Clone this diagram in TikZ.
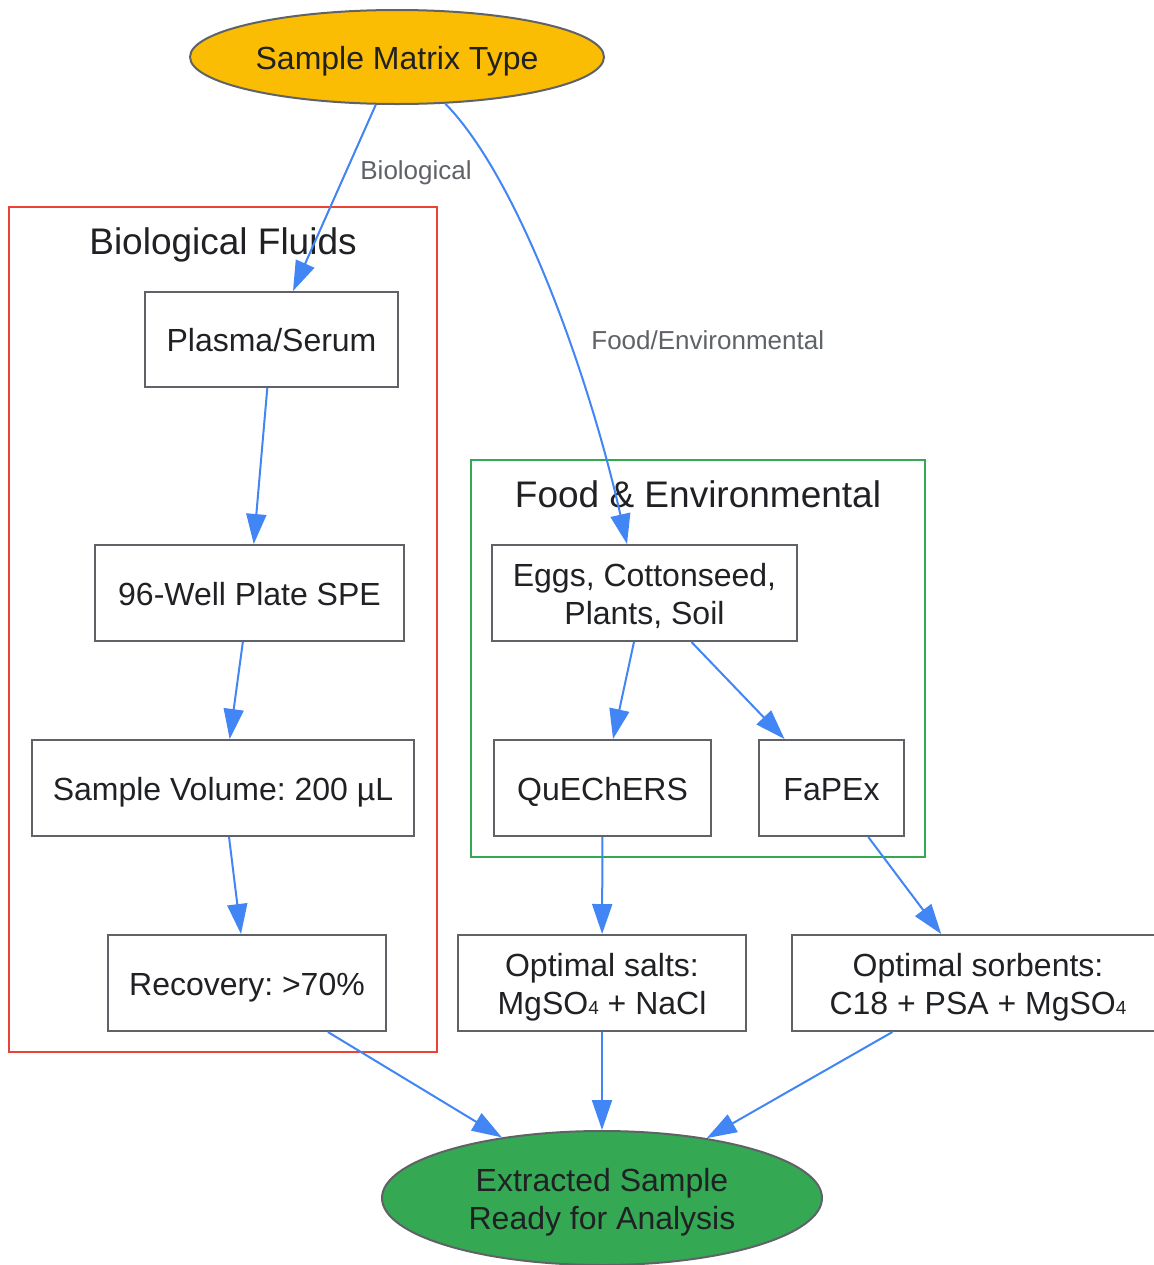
\documentclass[tikz,border=0pt]{standalone}
\usepackage{fontspec}
\setmainfont{Liberation Sans}
\usetikzlibrary{arrows.meta,shapes.geometric}
\definecolor{gyellow}{HTML}{FBBC04}
\definecolor{ggreen}{HTML}{34A853}
\definecolor{gred}{HTML}{EA4335}
\definecolor{gblue}{HTML}{4285F4}
\definecolor{ggray}{HTML}{5F6368}
\definecolor{gtext}{HTML}{202124}
\newcommand{\subfour}{{\fontsize{9.5pt}{9.5pt}\selectfont 4}}
\tikzset{
  box/.style={draw=ggray, line width=1pt, fill=white, inner sep=0pt, align=center,
    text=gtext, font=\fontsize{16pt}{19pt}\selectfont, minimum height=48pt,
    text height=12pt, text depth=0pt},
  oval/.style={ellipse, draw=ggray, line width=1pt, inner sep=0pt, align=center,
    text=gtext, font=\fontsize{16pt}{19pt}\selectfont, text height=12pt, text depth=0pt},
  twoline/.style={text height=31.5pt, text depth=0pt},
  flow/.style={draw=gblue, line width=1pt, -{Triangle[length=15pt,width=10pt]}},
  elabel/.style={text=ggray, font=\fontsize{13pt}{15pt}\selectfont, anchor=west, inner sep=0pt,
    text height=9.3pt, text depth=0pt},
  clabel/.style={text=gtext, font=\fontsize{18.5pt}{22pt}\selectfont, inner sep=0pt,
    text height=13.25pt, text depth=0pt},
  cluster/.style={line width=1pt}
}
\begin{document}
\frenchspacing
\begin{tikzpicture}[x=0.5pt,y=-0.5pt]
\useasboundingbox (0,0) rectangle (1154,1265);
\fill[white] (0,0) rectangle (1154,1265);
% clusters
\draw[cluster, draw=gred] (9,207) rectangle (437,1052);
\node[clabel] (biolabel) at (223,241) {Biological Fluids};
\draw[cluster, draw=ggreen] (471,460) rectangle (925,857);
\node[clabel] (foodlabel) at (698,494) {Food \& Environmental};
% nodes
\node[oval, fill=gyellow, minimum width=207pt, minimum height=47pt] (top) at (397,57) {Sample Matrix Type};
\node[box, minimum width=126.5pt, minimum height=47.5pt] (plasma) at (271.5,339.5) {Plasma/Serum};
\node[box, minimum width=154.5pt] (well) at (249.5,593) {96-Well Plate SPE};
\node[box, minimum width=191pt] (vol) at (223,788) {Sample Volume: 200 µL};
\node[box, minimum width=139pt] (rec) at (247,983) {Recovery: >70\%};
\node[box, twoline, minimum width=152.5pt] (eggs) at (644.5,593) {Eggs, Cottonseed,\\Plants, Soil};
\node[box, minimum width=108.5pt] (quech) at (602.5,788) {QuEChERS};
\node[box, minimum width=72.5pt] (fapex) at (831.5,788) {FaPEx};
\node[box, twoline, minimum width=144pt] (salts) at (602,983) {Optimal salts:\\MgSO\subfour{} + NaCl};
\node[box, twoline, minimum width=186pt] (sorb) at (978,983) {Optimal sorbents:\\C18 + PSA + MgSO\subfour};
\node[oval, twoline, fill=ggreen, minimum width=220pt, minimum height=67pt] (final) at (602,1198) {Extracted Sample\\Ready for Analysis};
% edges
\draw[flow] (top) -- (plasma);
\node[elabel] (lbio) at (360,170) {Biological};
\draw[flow] (top.-44) .. controls (520,180) and (590,380) .. ([xshift=-8.75pt]eggs.north);
\node[elabel] (lfood) at (591,340) {Food/Environmental};
\draw[flow] (plasma) -- (well);
\draw[flow] (well) -- (vol);
\draw[flow] (vol) -- (rec);
\draw[flow] (rec) -- (final);
\draw[flow] (eggs) -- (quech);
\draw[flow] (eggs) -- (fapex);
\draw[flow] (quech) -- (salts);
\draw[flow] (fapex) -- (sorb);
\draw[flow] (salts) -- (final);
\draw[flow] (sorb) -- (final);
\end{tikzpicture}
\end{document}
